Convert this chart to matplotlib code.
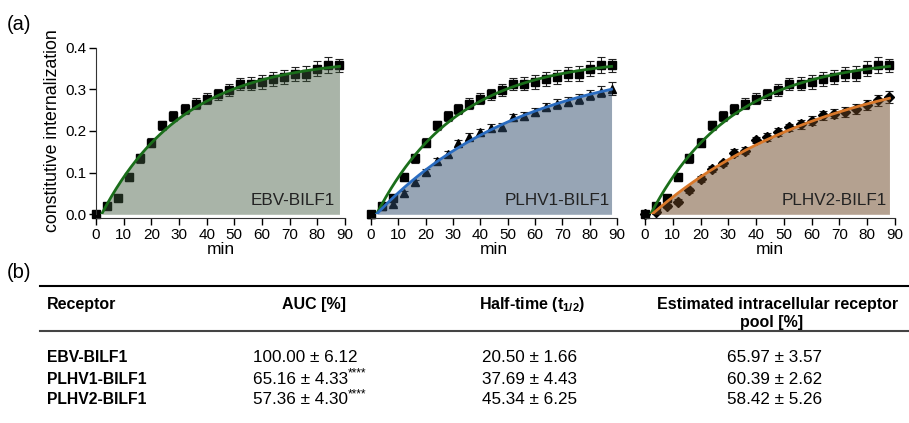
import numpy as np
import matplotlib.pyplot as plt

plt.rcParams["font.family"] = "Liberation Sans"
plt.rcParams["mathtext.fontset"] = "custom"
plt.rcParams["mathtext.rm"] = "Liberation Sans"
plt.rcParams["mathtext.bf"] = "Liberation Sans:bold"

# time points (min)
time_min = [0, 4, 8, 12, 16, 20, 24, 28, 32, 36, 40, 44, 48, 52, 56, 60, 64, 68, 72, 76, 80, 84, 88]

ebv_mean = [0.0, 0.02, 0.04, 0.089, 0.134, 0.172, 0.214, 0.236, 0.253, 0.266, 0.278, 0.288,
            0.298, 0.313, 0.314, 0.318, 0.325, 0.330, 0.337, 0.338, 0.350, 0.358, 0.358]
ebv_err = [0.005, 0.006, 0.006, 0.008, 0.010, 0.010, 0.011, 0.012, 0.012, 0.013, 0.013, 0.014,
           0.014, 0.015, 0.015, 0.016, 0.016, 0.017, 0.017, 0.017, 0.018, 0.019, 0.016]
plhv1_mean = [0.0, 0.02, 0.025, 0.05, 0.077, 0.102, 0.128, 0.144, 0.170, 0.186, 0.197, 0.208,
              0.210, 0.233, 0.236, 0.246, 0.258, 0.265, 0.270, 0.278, 0.286, 0.294, 0.302]
plhv1_err = [0.004, 0.005, 0.005, 0.006, 0.006, 0.007, 0.007, 0.007, 0.008, 0.008, 0.008, 0.009,
             0.009, 0.009, 0.010, 0.010, 0.010, 0.011, 0.011, 0.012, 0.012, 0.013, 0.015]
plhv2_mean = [0.0, 0.005, 0.02, 0.03, 0.058, 0.085, 0.108, 0.122, 0.148, 0.153, 0.178, 0.185,
              0.198, 0.209, 0.216, 0.225, 0.238, 0.242, 0.246, 0.254, 0.262, 0.274, 0.281]
plhv2_err = [0.004, 0.005, 0.005, 0.006, 0.006, 0.007, 0.007, 0.007, 0.008, 0.008, 0.008, 0.009,
             0.009, 0.009, 0.010, 0.010, 0.011, 0.011, 0.012, 0.012, 0.012, 0.013, 0.014]

# one-phase association fit: plateau, half-time (min), delay (min)
ebv_fit = (0.3756, 20.50, 2.0)
plhv1_fit = (0.378, 37.69, 2.0)
plhv2_fit = (0.382, 45.34, 2.5)

# table (b)
receptors = ["EBV-BILF1", "PLHV1-BILF1", "PLHV2-BILF1"]
auc_vals = ["100.00 ± 6.12", "65.16 ± 4.33", "57.36 ± 4.30"]
auc_stars = ["", "****", "****"]
half_vals = ["20.50 ± 1.66", "37.69 ± 4.43", "45.34 ± 6.25"]
pool_vals = ["65.97 ± 3.57", "60.39 ± 2.62", "58.42 ± 5.26"]


def fit_curve(params, x):
    plateau, t_half, x0 = params
    y = plateau * (1 - np.exp(-np.log(2) / t_half * (x - x0)))
    return np.clip(y, 0, None)


def draw_series(ax, mean, err, marker, ms):
    ax.errorbar(time_min, mean, yerr=err, fmt=marker, color="black", ms=ms,
                ecolor="#222222", elinewidth=0.8, capsize=3, capthick=0.8,
                zorder=2, clip_on=False)


fig = plt.figure(figsize=(9.09, 4.23), dpi=100)

# pixel x of 0 and 90 min, own series, marker, fit, label
panels = [
    (96, 345, None, None, None, ebv_fit, "EBV-BILF1"),
    (371, 617, plhv1_mean, plhv1_err, "^", plhv1_fit, "PLHV1-BILF1"),
    (645, 895, plhv2_mean, plhv2_err, "D", plhv2_fit, "PLHV2-BILF1"),
]
fills = [("#40593e", 0.45), ("#314d6d", 0.5), ("#6b4523", 0.5)]
line_cols = ["#1a6e1a", "#2a6cc0", "#d9782a"]
label_x = [0.96, 0.97, 0.968]

xfit = np.linspace(0, 88, 300)
for i, p in enumerate(panels):
    x0_px, x90_px = p[0], p[1]
    ax = fig.add_axes([x0_px / 909, 1 - 214.3 / 423, (x90_px - x0_px) / 909,
                       (214.3 - 47.7) / 423])

    draw_series(ax, ebv_mean, ebv_err, "s", 5.5)
    if p[2] is not None:
        draw_series(ax, p[2], p[3], p[4], 5.8 if p[4] == "^" else 5)
    own_fit = p[5]

    fc, fa = fills[i]
    ax.fill_between(xfit, 0, fit_curve(own_fit, xfit), color=fc, alpha=fa,
                    lw=0, zorder=3)
    ye = fit_curve(ebv_fit, xfit)
    ax.plot(xfit[ye > 0], ye[ye > 0], color=line_cols[0], lw=2, zorder=4)
    if i > 0:
        yy = fit_curve(own_fit, xfit)
        ax.plot(xfit[yy > 0], yy[yy > 0], color=line_cols[i], lw=2, zorder=4)

    ax.set_xlim(0, 90)
    ax.set_ylim(0, 0.4)
    ax.set_xticks(range(0, 91, 10))
    ax.tick_params(axis="both", labelsize=11, length=5, width=1, direction="out", pad=2)
    ax.spines["top"].set_visible(False)
    ax.spines["right"].set_visible(False)
    ax.spines["bottom"].set_position(("outward", 3))
    ax.spines["bottom"].set_color("#333333")
    ax.set_xlabel("min", fontsize=12.5, labelpad=0)
    ax.text(label_x[i], 0.035, p[6], transform=ax.transAxes, ha="right", va="bottom",
            fontsize=12.3, color="#222222", zorder=5)
    if i == 0:
        ax.set_yticks([0.0, 0.1, 0.2, 0.3, 0.4])
        ax.set_yticklabels(["0.0", "0.1", "0.2", "0.3", "0.4"])
        ax.spines["left"].set_color("#333333")
        ax.set_ylabel("constitutive internalization", fontsize=12.8, labelpad=3)
    else:
        ax.spines["left"].set_visible(False)
        ax.set_yticks([])

# table panel in pixel coordinates
tab = fig.add_axes([0, 0, 1, 1], zorder=-1)
tab.set_xlim(0, 909)
tab.set_ylim(423, 0)
tab.axis("off")

tab.text(7, 25, "(a)", fontsize=14.5, va="center", ha="left")
tab.text(7, 272, "(b)", fontsize=14.5, va="center", ha="left")
tab.plot([40, 909], [286, 286], color="black", lw=1.5)
tab.plot([40, 909], [331, 331], color="#444444", lw=1.5)

hdr = dict(fontsize=11.5, fontweight="bold", va="center")
tab.text(47, 304, "Receptor", ha="left", **hdr)
tab.text(314, 304, "AUC [%]", ha="center", **hdr)
tab.text(532, 304, r"Half-time (t$_{\mathbf{1/2}}$)", ha="center", **hdr)
tab.text(778, 304, "Estimated intracellular receptor", ha="center", **hdr)
tab.text(772, 322, "pool [%]", ha="center", **hdr)

row_y = [358, 379, 400]
for r, y in enumerate(row_y):
    tab.text(47, y, receptors[r], ha="left", va="center", fontsize=11.3, fontweight="bold")
    t = tab.text(253, y, auc_vals[r], ha="left", va="center", fontsize=12.3)
    if auc_stars[r]:
        tab.annotate(auc_stars[r], xy=(1, 0.5), xycoords=t, ha="left", va="bottom",
                     fontsize=8.5)
    tab.text(482, y, half_vals[r], ha="left", va="center", fontsize=12.3)
    tab.text(727, y, pool_vals[r], ha="left", va="center", fontsize=12.3)

fig.savefig("out.png", dpi=100, facecolor="white")
